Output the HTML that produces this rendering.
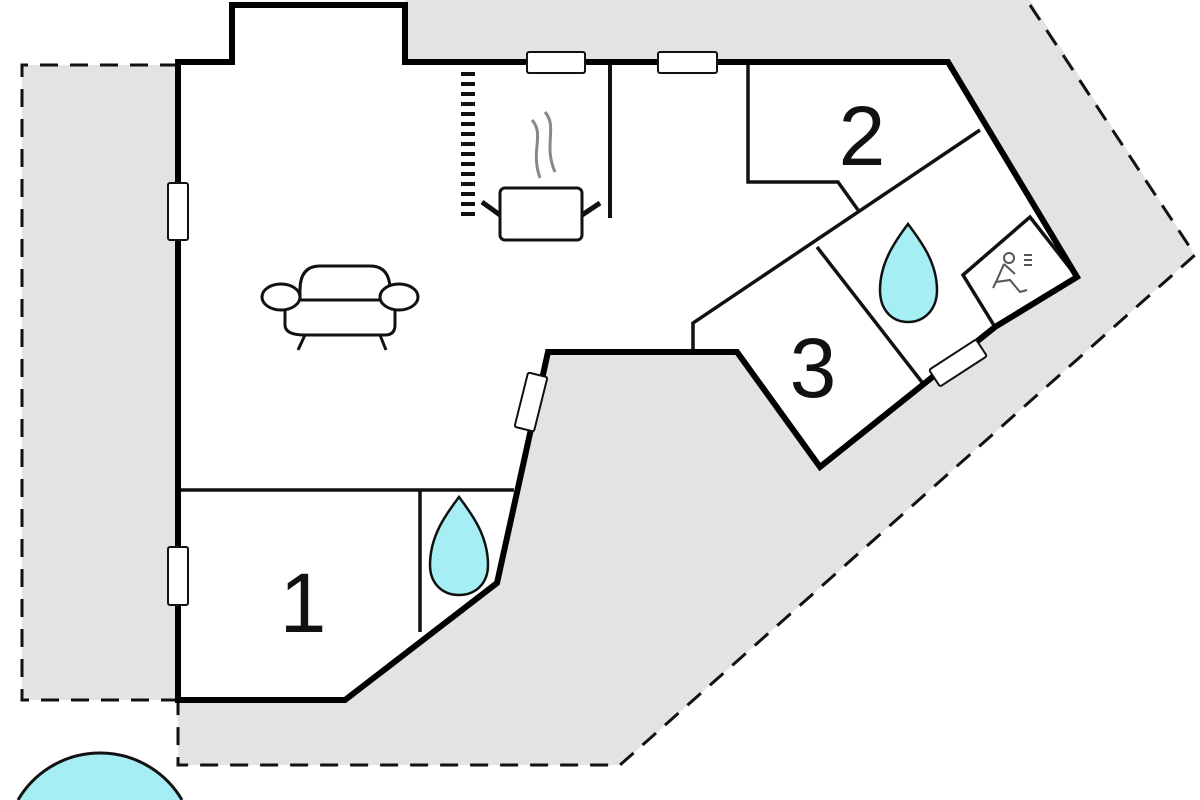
<!DOCTYPE html>
<html><head><style>html,body{margin:0;padding:0;background:#fff;width:1200px;height:800px;overflow:hidden}svg{display:block}</style></head>
<body>
<svg width="1200" height="800" viewBox="0 0 1200 800" xmlns="http://www.w3.org/2000/svg">
<rect x="22" y="65" width="156" height="635" fill="#e3e3e3"/>
<polygon points="405,0 1030,0 1195,255 620,765 178,765 178,62 405,62" fill="#e3e3e3"/>
<g fill="none" stroke="#111" stroke-width="3" stroke-dasharray="18,12">
<polyline points="1030,5 1195,255 620,765 178,765 178,703"/>
<polyline points="178,65 22,65 22,700 178,700"/>
</g>
<polygon points="178,700 178,62 232,62 232,5 405,5 405,62 948,62 1077,277 995,327 820,467 737,352 548,352 497,583 345,700" fill="#fff"/>
<g fill="none" stroke="#111" stroke-width="3.5">
<line x1="178" y1="490" x2="514" y2="490"/>
<line x1="420" y1="490" x2="420" y2="632"/>
<polyline points="748,62 748,182 838,182 858,210"/>
<polyline points="693,350 693,323 980,130"/>
<line x1="817" y1="247" x2="925" y2="386"/>
<polygon points="963,275 1030,217 1077,277 995,327" fill="#fff"/>
<line x1="610" y1="62" x2="610" y2="218" stroke-width="4"/>
</g>
<polygon points="178,700 178,62 232,62 232,5 405,5 405,62 948,62 1077,277 995,327 820,467 737,352 548,352 497,583 345,700" fill="none" stroke="#000" stroke-width="6"/>
<g fill="#fff" stroke="#111" stroke-width="2">
<rect x="527" y="52" width="58" height="21" rx="2"/>
<rect x="658" y="52" width="59" height="21" rx="2"/>
<rect x="168" y="183" width="20" height="57" rx="2"/>
<rect x="168" y="547" width="20" height="58" rx="2"/>
<rect x="-10" y="-28" width="20" height="56" rx="2" transform="translate(531,402) rotate(14)"/>
<rect x="-28" y="-10" width="56" height="20" rx="2" transform="translate(958,363) rotate(-33)"/>
</g>
<line x1="468" y1="72" x2="468" y2="216" stroke="#111" stroke-width="14" stroke-dasharray="4,6"/>
<g fill="none" stroke="#888" stroke-width="3">
<path d="M532,120 C545,135 530,150 540,178"/>
<path d="M545,112 C558,127 543,145 555,172"/>
</g>
<rect x="500" y="188" width="82" height="52" rx="5" fill="#fff" stroke="#111" stroke-width="3"/>
<line x1="482" y1="202" x2="500" y2="215" stroke="#111" stroke-width="5"/>
<line x1="600" y1="203" x2="582" y2="215" stroke="#111" stroke-width="5"/>
<g fill="#fff" stroke="#111" stroke-width="3">
<path d="M300,290 Q300,266 320,266 L370,266 Q390,266 390,290 L390,310 L300,310 Z"/>
<path d="M285,300 L395,300 L395,325 Q395,335 385,335 L305,335 Q285,335 285,325 Z"/>
<ellipse cx="281" cy="297" rx="19" ry="13"/>
<ellipse cx="399" cy="297" rx="19" ry="13"/>
<line x1="305" y1="335" x2="298" y2="350"/>
<line x1="380" y1="335" x2="386" y2="350"/>
</g>
<g fill="#a4eef4" stroke="#111" stroke-width="2.5">
<path d="M908,224 C920,240 937,262 937,290 C937,310 924,322 908,322 C892,322 880,310 880,290 C880,262 896,240 908,224 Z"/>
<path d="M459,497 C471,513 488,535 488,565 C488,584 475,595 459,595 C443,595 430,584 430,565 C430,535 447,513 459,497 Z"/>
</g>
<g fill="none" stroke="#555" stroke-width="2">
<circle cx="1009" cy="258" r="5"/>
<path d="M1004,264 L996,282 L1010,280 L1020,292 L1027,290"/>
<path d="M1004,264 L1015,274"/>
<path d="M996,282 L993,288"/>
<path d="M1024,255 L1032,255 M1024,260 L1032,260 M1024,265 L1032,265"/>
</g>
<path d="M18,800 A95,95 0 0 1 182,800 Z" fill="#a4eef4"/>
<path d="M18,800 A95,95 0 0 1 182,800" fill="none" stroke="#111" stroke-width="3"/>
<g font-family="Liberation Sans, sans-serif" font-size="84" fill="#111" text-anchor="middle">
<text x="862" y="165">2</text>
<text x="813" y="397">3</text>
<text x="303" y="632">1</text>
</g>
</svg>
</body></html>
